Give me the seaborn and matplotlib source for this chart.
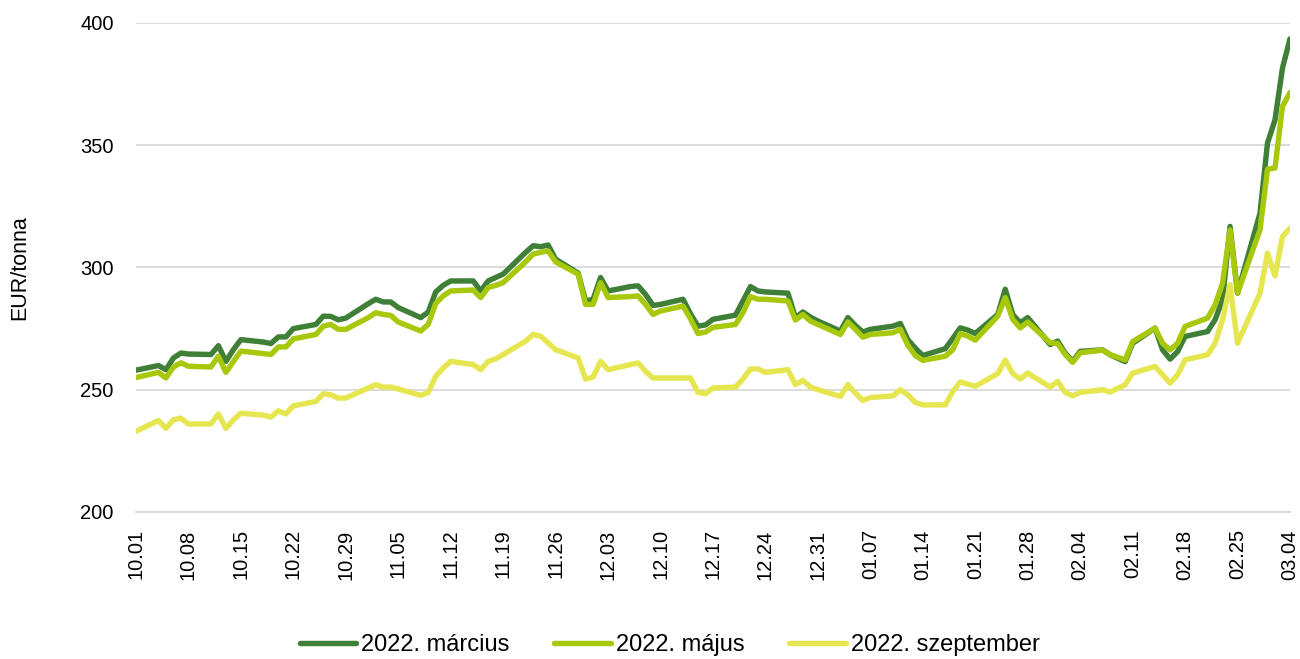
import numpy as np
import pandas as pd
import matplotlib.pyplot as plt
from matplotlib.lines import Line2D
import seaborn as sns

# business days 2021.10.01 - 2022.03.04
dates = pd.bdate_range('2021-10-01', '2022-03-04')

marcius = [
    # okt
    258.0, 259.9, 258.2, 263.0, 265.0, 264.6, 264.4, 268.0, 261.6, 266.4, 270.5,
    269.5, 268.9, 271.6, 271.6, 275.0, 276.7, 280.1, 280.0, 278.6, 279.3,
    # nov
    285.2, 287.0, 285.9, 285.9, 283.6, 279.5, 281.8, 290.0, 292.7, 294.5, 294.5,
    290.4, 294.5, 295.9, 297.3, 306.2, 308.9, 308.5, 309.2, 303.4, 297.7, 286.3,
    # dec
    287.0, 295.9, 290.4, 292.2, 292.5, 289.0, 284.5, 284.9, 287.0, 281.0, 276.0,
    276.5, 278.8, 280.5, 286.3, 292.2, 290.4, 290.0, 289.5, 279.5, 281.8, 279.7, 278.1,
    # jan
    274.0, 279.5, 276.3, 273.6, 274.7, 276.0, 277.1, 270.5, 267.0, 264.0, 266.8,
    271.0, 275.3, 274.4, 273.0, 280.8, 291.1, 280.8, 277.4, 279.5, 268.5,
    # feb
    269.9, 265.0, 261.6, 265.7, 266.3, 264.3, 262.9, 261.5, 269.0, 275.2, 266.3,
    262.5, 265.6, 271.8, 273.8, 278.6, 286.8, 316.8, 289.5, 322.2,
    # mar
    350.9, 360.4, 381.6, 393.5,
]

majus = [
    255.0, 257.1, 254.8, 259.3, 261.0, 259.6, 259.3, 263.7, 257.1, 261.6, 265.8,
    264.8, 264.4, 267.5, 267.5, 270.8, 272.6, 276.0, 276.7, 274.7, 274.7,
    279.5, 281.5, 280.8, 280.4, 277.7, 274.0, 276.7, 285.3, 288.4, 290.4, 290.8,
    287.7, 291.8, 292.7, 293.8, 302.3, 305.5, 306.2, 306.8, 302.3, 297.3, 284.9,
    284.9, 293.8, 287.7, 288.1, 288.4, 284.9, 280.8, 282.2, 284.2, 279.0, 273.0,
    273.6, 275.5, 276.7, 281.5, 288.1, 287.0, 287.0, 286.3, 278.5, 280.8, 278.1, 276.7,
    272.6, 277.7, 274.7, 271.5, 272.6, 273.3, 274.7, 268.2, 264.0, 262.0, 263.7,
    266.4, 273.0, 271.9, 270.3, 280.1, 287.7, 278.8, 275.3, 277.7, 269.2,
    268.9, 264.4, 261.2, 265.1, 266.2, 264.3, 263.3, 262.2, 269.7, 275.2, 269.0,
    266.3, 269.0, 275.9, 279.3, 284.7, 293.6, 315.4, 289.5, 315.4,
    340.2, 340.7, 365.9, 371.6,
]

szeptember = [
    233.0, 237.4, 234.2, 237.7, 238.4, 236.0, 236.0, 240.1, 234.2, 237.7, 240.4,
    239.6, 238.8, 241.4, 240.1, 243.4, 245.2, 248.4, 247.9, 246.6, 246.6,
    250.7, 252.1, 251.0, 251.1, 250.3, 247.7, 248.9, 255.5, 258.9, 261.6, 260.3,
    258.2, 261.6, 262.6, 264.4, 269.9, 272.6, 271.9, 269.2, 266.4, 263.0, 254.4,
    255.2, 261.6, 258.2, 260.3, 261.0, 257.5, 254.8, 254.8, 254.8, 254.8, 248.9,
    248.4, 250.7, 251.1, 254.4, 258.5, 258.5, 257.1, 258.2, 252.1, 253.8, 251.1, 250.0,
    247.3, 252.1, 248.6, 245.6, 246.8, 247.5, 250.0, 247.9, 244.8, 243.8, 243.8,
    249.3, 253.2, 252.3, 251.4, 256.6, 262.1, 256.6, 254.4, 256.8, 251.1,
    253.4, 248.9, 247.5, 248.9, 250.0, 249.0, 250.6, 252.0, 256.8, 259.5, 256.1,
    252.7, 256.1, 262.2, 264.3, 269.0, 278.6, 292.9, 269.0, 289.5,
    305.9, 296.6, 312.7, 316.1,
]

labels = ['2022. március', '2022. május', '2022. szeptember']
colors = ['#3f7f37', '#a8c80c', '#e6e650']

df = pd.DataFrame({'date': dates, labels[0]: marcius, labels[1]: majus, labels[2]: szeptember})
df_long = df.melt(id_vars='date', var_name='contract', value_name='price')

sns.set_style('white')
plt.rcParams['font.family'] = ['Liberation Sans', 'DejaVu Sans']
plt.rcParams['text.color'] = 'black'

fig = plt.figure(figsize=(13, 6.59), dpi=100)
ax = fig.add_axes([0.1046, 0.2231, 0.8877, 0.742])

sns.lineplot(data=df_long, x='date', y='price', hue='contract', hue_order=labels,
             palette=colors, linewidth=3.9, ax=ax, legend=False,
             solid_joinstyle='round', solid_capstyle='round')

ax.set_ylim(200, 400)
ax.set_yticks(np.arange(200, 401, 50))
ticks = pd.date_range('2021-10-01', '2022-03-04', freq='7D')
ax.set_xlim(ticks[0], ticks[-1])
ax.set_xticks(ticks)
ax.set_xticklabels([t.strftime('%m.%d') for t in ticks], rotation=90)

ax.yaxis.grid(True, color='#d9d9d9', lw=1.3)
ax.set_axisbelow(True)
for s in ['left', 'right', 'top']:
    ax.spines[s].set_visible(False)
ax.spines['bottom'].set_color('#d9d9d9')
ax.spines['bottom'].set_linewidth(1.3)

ax.tick_params(axis='x', length=4.5, width=1.3, color='#d9d9d9', pad=8,
               labelsize=14.5, labelcolor='black')
ax.tick_params(axis='y', length=0, pad=16, labelsize=14.5, labelcolor='black')

ax.set_xlabel('')
ax.set_ylabel('EUR/tonna', fontsize=15.5, color='black')
ax.yaxis.set_label_coords(-0.092, 0.5)

handles = [Line2D([], [], color=c, lw=3.9) for c in colors]
fig.legend(handles, labels, loc='center', bbox_to_anchor=(0.515, 0.021), ncol=3,
           frameon=False, fontsize=17, handlelength=2.4, handletextpad=0.2,
           columnspacing=1.9, labelcolor='black')

fig.savefig('out.png', dpi=100)
